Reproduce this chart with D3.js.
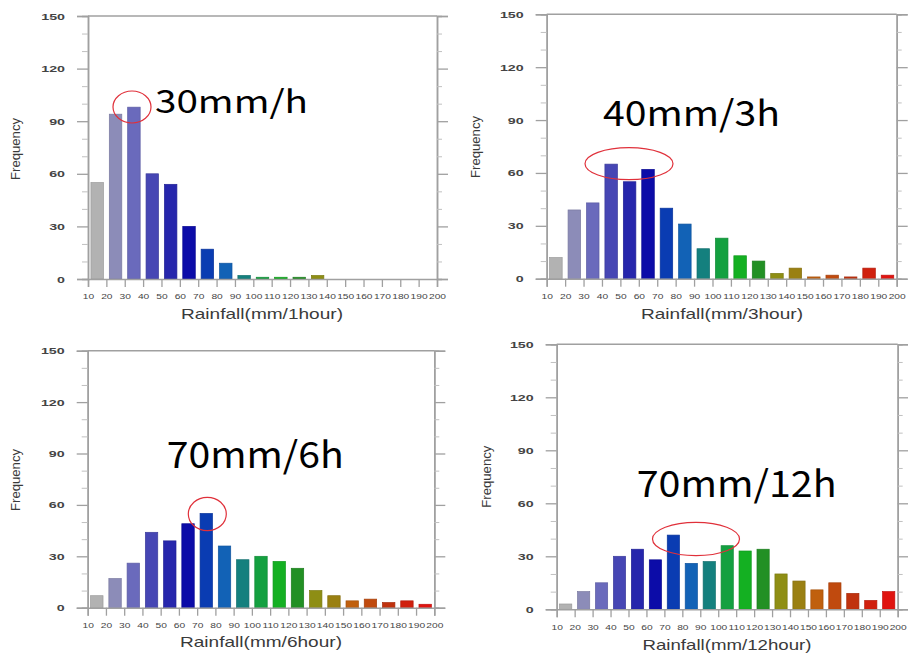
<!DOCTYPE html>
<html><head><meta charset="utf-8">
<script src="https://cdn.jsdelivr.net/npm/d3@7"></script>
<style>html,body{margin:0;padding:0;background:#fff;}svg{display:block;}</style>
</head><body>
<svg id="chart" width="908" height="657"></svg>
<script>
// ---- data ----
const binEdges = ["10","20","30","40","50","60","70","80","90","100","110","120","130","140","150","160","170","180","190","200"];
const bins = binEdges.slice(0, 19);
const yTicks = [0, 30, 60, 90, 120, 150];
const yMinor = [10, 20, 40, 50, 70, 80, 100, 110, 130, 140];
const values1h  = [55, 94, 98, 60, 54, 30, 17, 9, 2, 1, 1, 1, 2, 0, 0, 0, 0, 0, 0];
const values3h  = [12, 39, 43, 65, 55, 62, 40, 31, 17, 23, 13, 10, 3, 6, 1, 2, 1, 6, 2];
const values6h  = [7, 17, 26, 44, 39, 49, 55, 36, 28, 30, 27, 23, 10, 7, 4, 5, 3, 4, 2];
const values12h = [3, 10, 15, 30, 34, 28, 42, 26, 27, 36, 33, 34, 20, 16, 11, 15, 9, 5, 10];
const xTitles = ["Rainfall(mm/1hour)", "Rainfall(mm/3hour)", "Rainfall(mm/6hour)", "Rainfall(mm/12hour)"];
const notes = ["30mm/h", "40mm/3h", "70mm/6h", "70mm/12h"];
const barColors = ["#b2b2b2","#8c8cb8","#6a6abc","#4646b4","#2626ac","#0c0ca8","#0a3cb2","#1262b6","#14807e","#14a040","#14b022","#229024","#8e8e14","#9a8012","#c0600e","#c04a0e","#c0320e","#d0200e","#e01410"];

// ---- layout ----
const panels = [
  {vals: values1h,  L: 88,    R: 437,   T: 16,    B: 279,
   note: {x: 155, y: 113, fs: 32, w: 153}, ell: {cx: 132, cy: 107, rx: 19, ry: 16},
   title: {x: 262, y: 319}, ylab: {x: 15, y: 149}},
  {vals: values3h,  L: 546.7, R: 896.7, T: 14.3,  B: 278.7,
   note: {x: 603, y: 126, fs: 35.5, w: 177}, ell: {cx: 629, cy: 163.7, rx: 44, ry: 16},
   title: {x: 722, y: 319}, ylab: {x: 475, y: 147}},
  {vals: values6h,  L: 87.7,  R: 434.3, T: 350.7, B: 607.7,
   note: {x: 166.7, y: 468.3, fs: 36.5, w: 177}, ell: {cx: 207.3, cy: 514, rx: 19, ry: 16.7},
   title: {x: 261, y: 647}, ylab: {x: 15.7, y: 480}},
  {vals: values12h, L: 556.7, R: 897.7, T: 344.3, B: 609.3,
   note: {x: 636.7, y: 496.7, fs: 36.5, w: 200}, ell: {cx: 696, cy: 539, rx: 43.5, ry: 16.7},
   title: {x: 727, y: 650}, ylab: {x: 486.7, y: 476.7}}
];

const svg = d3.select("#chart");
const axisColor = "#a0a0a0";
const labelColor = "#3a3a3a";
const ySx = 1.5, xSx = 1.42;

panels.forEach((p, pi) => {
  const g = svg.append("g");
  const x = d3.scaleBand().domain(bins).range([p.L, p.R]).paddingInner(0.32).paddingOuter(0.16);
  const xe = d3.scaleLinear().domain([10, 200]).range([p.L, p.R]);
  const y = d3.scaleLinear().domain([0, 150]).range([p.B, p.T]);

  // bars
  g.selectAll("rect.bar").data(p.vals).join("rect")
    .attr("class", "bar")
    .attr("x", (d, i) => x(bins[i]))
    .attr("width", x.bandwidth())
    .attr("y", d => y(d))
    .attr("height", d => y(0) - y(d))
    .attr("fill", (d, i) => barColors[i])
    .attr("stroke", (d, i) => d > 0 ? d3.color(barColors[i]).darker(0.4) : "none")
    .attr("stroke-width", 0.7);

  // y axes (left with labels, right without)
  const yl = g.append("g").attr("transform", `translate(${p.L},0)`)
    .call(d3.axisLeft(y).tickValues(yTicks).tickSize(11).tickPadding(12));
  const ylm = g.append("g").attr("transform", `translate(${p.L},0)`)
    .call(d3.axisLeft(y).tickValues(yMinor).tickSize(6).tickFormat(""));
  const yr = g.append("g").attr("transform", `translate(${p.R},0)`)
    .call(d3.axisRight(y).tickValues(yTicks).tickSize(11).tickFormat(""));
  const yrm = g.append("g").attr("transform", `translate(${p.R},0)`)
    .call(d3.axisRight(y).tickValues(yMinor).tickSize(5).tickFormat(""));
  // x axis
  const xa = g.append("g").attr("transform", `translate(0,${p.B})`)
    .call(d3.axisBottom(xe).tickValues(binEdges.map(Number)).tickSize(8).tickPadding(6).tickFormat(d3.format("d")));
  // top frame
  g.append("line").attr("x1", p.L).attr("x2", p.R).attr("y1", y(150)).attr("y2", y(150))
    .attr("stroke", axisColor).attr("stroke-width", 1.5);

  [yl, ylm, yr, yrm, xa].forEach(a => {
    a.select(".domain").attr("stroke", axisColor).attr("stroke-width", 1.5);
    a.selectAll(".tick line").attr("stroke", axisColor).attr("stroke-width", 1.3);
  });
  ylm.selectAll(".tick line").attr("stroke", "#c0c0c0").attr("stroke-width", 1);
  yrm.selectAll(".tick line").attr("stroke", "#c0c0c0").attr("stroke-width", 1);

  yl.selectAll(".tick text")
    .attr("font-family", "Liberation Sans, Arial, sans-serif")
    .attr("font-size", 9.5).attr("font-weight", "bold").attr("fill", "#444")
    .attr("x", -23 / ySx)
    .attr("transform", `scale(${ySx},1)`);
  xa.selectAll(".tick text")
    .attr("font-family", "Liberation Sans, Arial, sans-serif")
    .attr("font-size", 7.2).attr("fill", "#444")
    .attr("dy", "0.9em")
    .attr("transform", `scale(${xSx},1)`);

  // axis titles
  g.append("text").attr("x", p.title.x).attr("y", p.title.y)
    .attr("text-anchor", "middle")
    .attr("font-family", "Liberation Sans, Arial, sans-serif")
    .attr("font-size", 14.5).attr("fill", labelColor)
    .attr("textLength", pi === 3 ? 169 : 162).attr("lengthAdjust", "spacingAndGlyphs")
    .text(xTitles[pi]);
  g.append("text")
    .attr("transform", `translate(${p.ylab.x},${p.ylab.y}) rotate(-90)`)
    .attr("text-anchor", "middle").attr("dy", "0.35em")
    .attr("font-family", "Liberation Sans, Arial, sans-serif")
    .attr("font-size", 13).attr("fill", labelColor)
    .attr("textLength", 62).attr("lengthAdjust", "spacingAndGlyphs")
    .text("Frequency");

  // annotation
  g.append("text").attr("x", p.note.x).attr("y", p.note.y)
    .attr("font-family", "Noto Sans CJK KR, Open Sans, sans-serif")
    .attr("font-size", p.note.fs).attr("fill", "#000")
    .attr("textLength", p.note.w).attr("lengthAdjust", "spacingAndGlyphs")
    .text(notes[pi]);
  g.append("ellipse").attr("cx", p.ell.cx).attr("cy", p.ell.cy)
    .attr("rx", p.ell.rx).attr("ry", p.ell.ry)
    .attr("fill", "none").attr("stroke", "#e0303a").attr("stroke-width", 1.2);
});
</script>
</body></html>
